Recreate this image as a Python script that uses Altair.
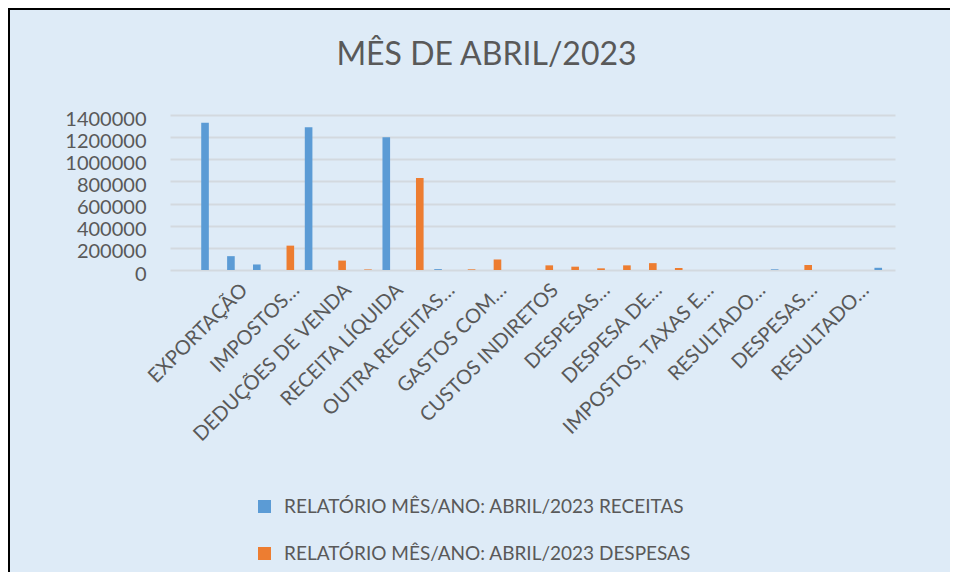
import json
import altair as alt
import pandas as pd

# ---- data ----
categorias = ["", "EXPORTAÇÃO", "", "IMPOSTOS…", "", "DEDUÇÕES DE VENDA", "",
              "RECEITA LÍQUIDA", "", "OUTRA RECEITAS…", "", "GASTOS COM…", "",
              "CUSTOS INDIRETOS", "", "DESPESAS…", "", "DESPESA DE…", "",
              "IMPOSTOS, TAXAS E…", "", "RESULTADO…", "", "DESPESAS…", "",
              "RESULTADO…", ""]
receitas = [1330000, 125000, 50000, 0, 1290000, 0, 0, 1200000, 0, 8000, 0, 0, 0, 0,
            0, 0, 0, 0, 0, 0, 0, 0, 6000, 0, 0, 0, 20000]
despesas = [0, 0, 0, 220000, 0, 85000, 5000, 0, 830000, 0, 6000, 95000, 0, 42000,
            30000, 15000, 42000, 62000, 18000, 0, 0, 0, 0, 45000, 0, 0, 0]
series = ["RELATÓRIO MÊS/ANO: ABRIL/2023 RECEITAS",
          "RELATÓRIO MÊS/ANO: ABRIL/2023 DESPESAS"]
cores = ["#5B9BD5", "#ED7D31"]
y_ticks = [0, 200000, 400000, 600000, 800000, 1000000, 1200000, 1400000]

rows = []
for i in range(len(categorias)):
    rows.append({"idx": i, "serie": series[0], "valor": receitas[i]})
    rows.append({"idx": i, "serie": series[1], "valor": despesas[i]})
df = pd.DataFrame(rows)

TXT = "#595959"
FONT = "Lato"
label_expr = json.dumps(categorias, ensure_ascii=False) + "[datum.value]"

bars = alt.Chart(df).transform_filter("datum.valor > 0").mark_bar().encode(
    x=alt.X("idx:O",
            scale=alt.Scale(domain=list(range(len(categorias))), paddingInner=0,
                            paddingOuter=0.5, align=1),
            axis=alt.Axis(labelExpr=label_expr, labelAngle=-45, labelAlign="right",
                          labelBaseline="alphabetic", labelPadding=21, labelOffset=14,
                          ticks=False, tickSize=0, domain=False, title=None,
                          labelFontSize=20, labelColor=TXT, labelFont=FONT,
                          labelOverlap=False, labelLimit=400, grid=False)),
    xOffset=alt.XOffset("serie:N",
                        scale=alt.Scale(domain=series, paddingInner=0, paddingOuter=0.7)),
    y=alt.Y("valor:Q",
            scale=alt.Scale(domain=[0, 1400000], nice=False),
            axis=alt.Axis(values=y_ticks, format="d", title=None, ticks=False,
                          domain=False, labelFontSize=20, labelColor=TXT,
                          labelFont=FONT, labelPadding=24, labelOffset=4,
                          gridColor="#D3D9DF", gridWidth=2)),
    color=alt.Color("serie:N",
                    scale=alt.Scale(domain=series, range=cores),
                    legend=alt.Legend(orient="none", legendX=85, legendY=382,
                                      direction="vertical", title=None,
                                      labelFontSize=19, labelColor=TXT, labelFont=FONT,
                                      labelLimit=700,
                                      symbolType="square", symbolSize=169,
                                      symbolStrokeWidth=0, rowPadding=27,
                                      labelOffset=10)),
)

frame = alt.Data(values=[{"k": 1}])
top_border = alt.Chart(frame).mark_rule(color="black", strokeWidth=2).encode(
    x=alt.value(-162), x2=alt.value(780), y=alt.value(-106))
left_border = alt.Chart(frame).mark_rule(color="black", strokeWidth=2).encode(
    x=alt.value(-161), y=alt.value(-107), y2=alt.value(457))

chart = alt.layer(bars, top_border, left_border).properties(
    width=725,
    height=155,
    autosize=alt.AutoSizeParams(type="none"),
    padding={"left": 162, "top": 107, "right": 55, "bottom": 302},
    background="#DEEBF7",
    title=alt.TitleParams("MÊS DE ABRIL/2023", font=FONT, fontSize=32,
                          fontWeight="normal", color=TXT, anchor="middle",
                          frame="group", dx=-46, offset=38, dy=103),
).configure_view(stroke=None)

chart.save("out.html", embed_options={"renderer": "svg", "actions": False})
